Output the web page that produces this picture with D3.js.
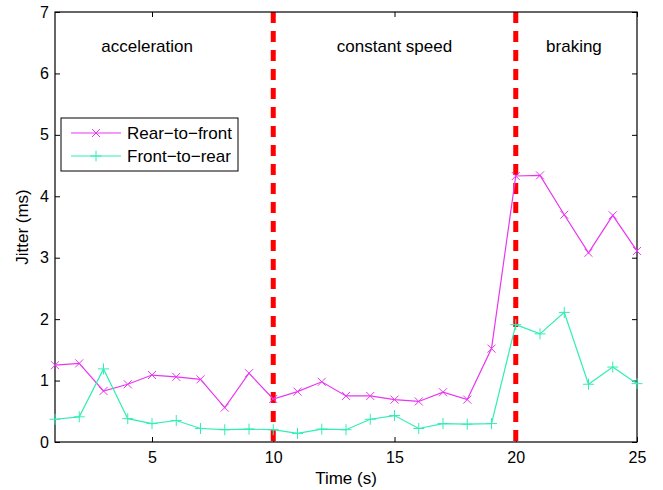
<!DOCTYPE html>
<html>
<head>
<meta charset="utf-8">
<script src="https://cdn.jsdelivr.net/npm/d3@7"></script>
<style>
  body { margin: 0; background: #fff; }
  text { font-family: "Liberation Sans", Arial, sans-serif; fill: #000; }
</style>
</head>
<body>
<div id="plot"></div>
<script>
// data
const times = d3.range(1, 26);
const rearToFront = [1.25, 1.28, 0.83, 0.94, 1.09, 1.06, 1.02, 0.56, 1.12, 0.70,
                     0.82, 0.98, 0.75, 0.75, 0.69, 0.66, 0.81, 0.69, 1.52, 4.33,
                     4.34, 3.70, 3.08, 3.69, 3.11];
const frontToRear = [0.37, 0.41, 1.19, 0.38, 0.30, 0.35, 0.22, 0.20, 0.21, 0.20,
                     0.14, 0.21, 0.20, 0.37, 0.43, 0.22, 0.30, 0.29, 0.30, 1.91,
                     1.76, 2.11, 0.94, 1.22, 0.95];
const xTicks = [5, 10, 15, 20, 25];
const yTicks = [0, 1, 2, 3, 4, 5, 6, 7];
const phaseLines = [10, 20];
const phases = [
  {label: "acceleration", x: 4.8},
  {label: "constant speed", x: 15},
  {label: "braking", x: 22.4}
];

const magenta = "#e836f0",
      green = "#30eeb4";

const margin = {top: 12, right: 26, bottom: 48, left: 55},
      width = 663 - margin.left - margin.right,
      height = 490 - margin.top - margin.bottom;

const svg = d3.select("#plot")
  .append("svg")
    .attr("width", 663)
    .attr("height", 490);

const g = svg.append("g")
  .attr("transform", "translate(" + margin.left + "," + margin.top + ")");

const xScale = d3.scaleLinear().domain([1, 25]).range([0, width]),
      yScale = d3.scaleLinear().domain([0, 7]).range([height, 0]);

// axes, ticks pointing inward (box on)
const tickLen = 5;
g.append("g")
  .attr("transform", "translate(0," + height + ")")
  .call(d3.axisBottom(xScale).tickValues(xTicks).tickSizeInner(-tickLen).tickSizeOuter(0).tickPadding(10).tickFormat(d3.format("d")));
g.append("g")
  .call(d3.axisTop(xScale).tickValues(xTicks).tickSizeInner(-tickLen).tickSizeOuter(0).tickFormat(""));
g.append("g")
  .call(d3.axisLeft(yScale).tickValues(yTicks).tickSizeInner(-tickLen).tickSizeOuter(0).tickPadding(6).tickFormat(d3.format("d")));
g.append("g")
  .attr("transform", "translate(" + width + ",0)")
  .call(d3.axisRight(yScale).tickValues(yTicks).tickSizeInner(-tickLen).tickSizeOuter(0).tickFormat(""));

g.selectAll(".domain").remove();
g.selectAll(".tick line").attr("stroke", "#000").attr("stroke-width", 1);
g.selectAll(".tick text").style("font-size", "16px").style("font-family", "Liberation Sans, Arial, sans-serif");

// phase dividers
g.selectAll(".phase-line")
  .data(phaseLines)
  .join("line")
    .attr("x1", d => xScale(d))
    .attr("x2", d => xScale(d))
    .attr("y1", 0)
    .attr("y2", height)
    .attr("stroke", "#ff0000")
    .attr("stroke-width", 5)
    .style("stroke-dasharray", "11, 8");

// box
g.append("rect")
  .attr("x", 0).attr("y", 0)
  .attr("width", width).attr("height", height)
  .attr("fill", "none")
  .attr("stroke", "#000")
  .attr("stroke-width", 1.2);

g.selectAll(".phase")
  .data(phases)
  .join("text")
    .attr("x", d => xScale(d.x))
    .attr("y", 40)
    .attr("text-anchor", "middle")
    .style("font-size", "17px")
    .text(d => d.label);

const line = d3.line()
  .x((d, i) => xScale(times[i]))
  .y(d => yScale(d));

const cross = (sel, color, s) => {
  sel.append("path")
    .attr("d", "M" + (-s) + "," + (-s) + "L" + s + "," + s + "M" + (-s) + "," + s + "L" + s + "," + (-s))
    .attr("stroke", color).attr("stroke-width", 1);
};
const plus = (sel, color, s) => {
  sel.append("path")
    .attr("d", "M" + (-s) + ",0L" + s + ",0M0," + (-s) + "L0," + s)
    .attr("stroke", color).attr("stroke-width", 1);
};

const series = [
  {name: "Rear\u2212to\u2212front", values: rearToFront, color: magenta, marker: cross, size: 4},
  {name: "Front\u2212to\u2212rear", values: frontToRear, color: green, marker: plus, size: 5.5}
];

series.forEach(s => {
  g.append("path")
    .datum(s.values)
    .attr("d", line)
    .attr("fill", "none")
    .attr("stroke", s.color)
    .attr("stroke-width", 1.2);
  g.selectAll(null)
    .data(s.values)
    .join("g")
      .attr("transform", (d, i) => "translate(" + xScale(times[i]) + "," + yScale(d) + ")")
      .each(function() { s.marker(d3.select(this), s.color, s.size); });
});

// legend
const legend = svg.append("g").attr("transform", "translate(61,118)");
legend.append("rect")
  .attr("width", 177).attr("height", 53)
  .attr("fill", "#fff").attr("stroke", "#000").attr("stroke-width", 1);
series.forEach((s, i) => {
  const row = legend.append("g").attr("transform", "translate(0," + (15 + i * 23) + ")");
  row.append("line")
    .attr("x1", 10).attr("x2", 60)
    .attr("stroke", s.color).attr("stroke-width", 1.2);
  const m = row.append("g").attr("transform", "translate(35,0)");
  s.marker(m, s.color, s.size);
  row.append("text")
    .attr("x", 66).attr("y", 6)
    .style("font-size", "17px")
    .text(s.name);
});

// axis labels
svg.append("text")
  .attr("x", margin.left + width / 2)
  .attr("y", 484)
  .attr("text-anchor", "middle")
  .style("font-size", "17px")
  .text("Time (s)");

svg.append("text")
  .attr("transform", "translate(28," + (margin.top + height / 2) + ") rotate(-90)")
  .attr("text-anchor", "middle")
  .style("font-size", "17px")
  .text("Jitter (ms)");
</script>
</body>
</html>
